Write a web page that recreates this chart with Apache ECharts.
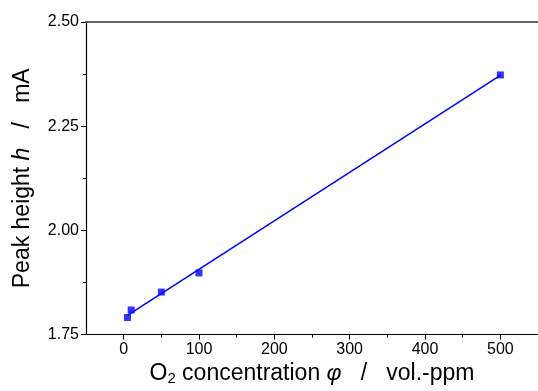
<!DOCTYPE html>
<html>
<head>
<meta charset="utf-8">
<script src="https://cdn.jsdelivr.net/npm/echarts@6/dist/echarts.min.js"></script>
<style>
  html, body { margin: 0; padding: 0; background: #fff; }
  #chart { width: 538px; height: 391px; }
</style>
</head>
<body>
<div id="chart"></div>
<script>
// O2 concentration (vol.-ppm) vs. peak height (mA)
const conc = [5, 10, 50, 100, 500];
const height = [1.791, 1.809, 1.852, 1.898, 2.373];
// linear fit
const fitX = [5, 500];
const fitY = [1.796, 2.372];
// x ticks
const xMajor = [0, 100, 200, 300, 400, 500];
const xMinor = [50, 150, 250, 350, 450];

const FONT = 'Liberation Sans, Arial, sans-serif';
const AXIS_LINE = { lineStyle: { color: '#000', width: 1.2 } };
const X_RANGE = { type: 'value', min: -50, max: 550, interval: 50 };

const chart = echarts.init(document.getElementById('chart'), null, { renderer: 'canvas' });
chart.setOption({
  animation: false,
  grid: { left: 86, right: 0, top: 22, bottom: 52 },
  xAxis: [{
    ...X_RANGE,
    position: 'bottom',
    axisLine: { show: true, onZero: false, ...AXIS_LINE },
    axisTick: { show: true, inside: false, length: 5, customValues: xMajor, lineStyle: { color: '#000' } },
    splitLine: { show: false },
    axisLabel: { color: '#000', fontSize: 16, fontFamily: FONT, margin: 7, customValues: xMajor },
    name: '{t|O}{s|2}{t| concentration }{i|φ}{t|   /   vol.-ppm}',
    nameLocation: 'middle', nameGap: 25,
    nameTextStyle: {
      rich: {
        t: { fontSize: 23, fontFamily: FONT, color: '#000' },
        i: { fontSize: 23, fontFamily: FONT, color: '#000', fontStyle: 'italic' },
        s: { fontSize: 15, fontFamily: FONT, color: '#000', verticalAlign: 'bottom', padding: [9, 0, 0, 0] },
      },
    },
  }, {
    ...X_RANGE,
    position: 'bottom',
    axisLine: { show: false, onZero: false },
    axisTick: { show: true, inside: false, length: 3, customValues: xMinor, lineStyle: { color: '#000' } },
    axisLabel: { show: false }, splitLine: { show: false },
  }, {
    ...X_RANGE,
    position: 'top',
    axisLine: { show: true, onZero: false, lineStyle: { color: '#333', width: 1.5 } },
    axisTick: { show: false }, axisLabel: { show: false }, splitLine: { show: false },
  }],
  yAxis: {
    type: 'value', min: 1.75, max: 2.5, interval: 0.25,
    axisLine: { show: true, onZero: false, ...AXIS_LINE },
    axisTick: { show: true, inside: false, length: 5, lineStyle: { color: '#000' } },
    minorTick: { show: true, splitNumber: 2, length: 3, lineStyle: { color: '#000' } },
    splitLine: { show: false },
    axisLabel: { color: '#000', fontSize: 16, fontFamily: FONT, margin: 7, formatter: (v) => v.toFixed(2) },
    name: '{t|Peak height }{i|h}{t|   /   mA}',
    nameLocation: 'middle', nameGap: 52, nameRotate: 90,
    nameTextStyle: {
      rich: {
        t: { fontSize: 23, fontFamily: FONT, color: '#000' },
        i: { fontSize: 23, fontFamily: FONT, color: '#000', fontStyle: 'italic' },
      },
    },
  },
  series: [{
    type: 'line', data: fitX.map((x, i) => [x, fitY[i]]),
    symbol: 'none', lineStyle: { color: '#0000ff', width: 1.5 }, z: 2,
  }, {
    type: 'scatter', data: conc.map((x, i) => [x, height[i]]),
    symbol: 'rect', symbolSize: 7, itemStyle: { color: '#0000ff' }, z: 3,
  }],
});
</script>
</body>
</html>
